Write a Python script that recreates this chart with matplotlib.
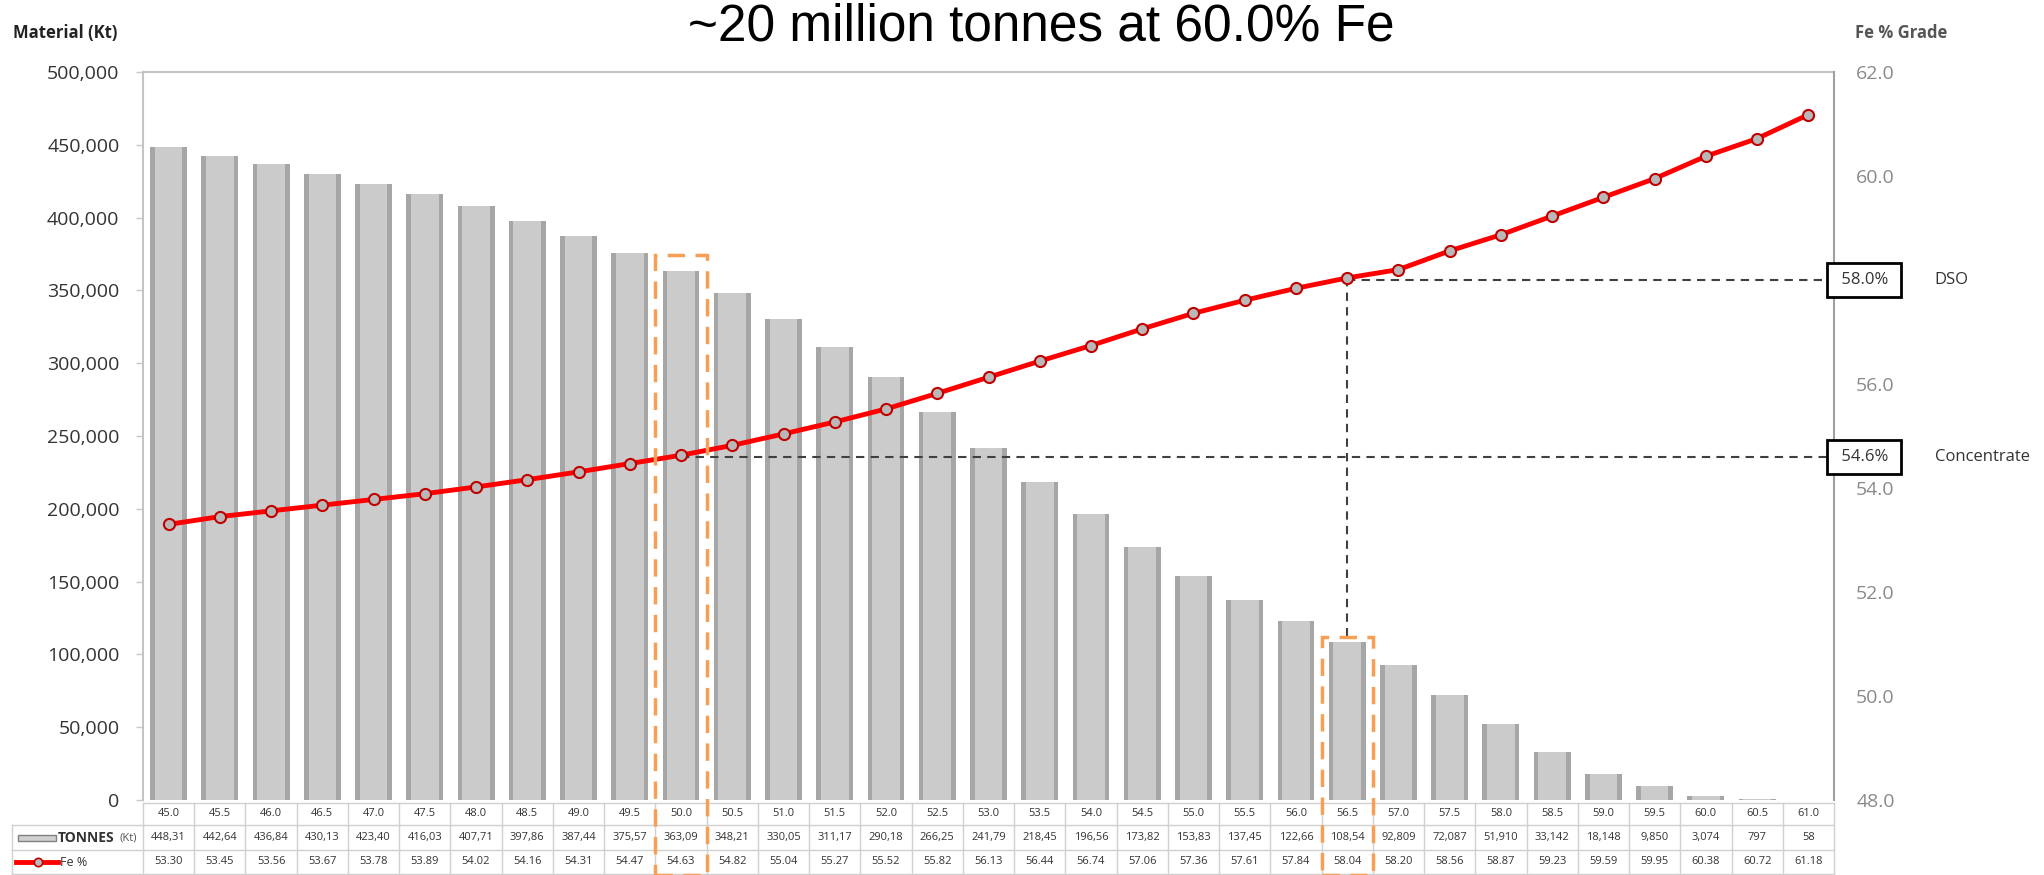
import numpy as np
import matplotlib
matplotlib.use("Agg")
import matplotlib.pyplot as plt
from matplotlib.patches import Rectangle
from matplotlib.lines import Line2D
import matplotlib.transforms as mtransforms

# cut-off grade (Fe %), tonnes above cut-off (Kt), average grade above cut-off
cutoff = [45.0, 45.5, 46.0, 46.5, 47.0, 47.5, 48.0, 48.5, 49.0, 49.5, 50.0,
          50.5, 51.0, 51.5, 52.0, 52.5, 53.0, 53.5, 54.0, 54.5, 55.0, 55.5,
          56.0, 56.5, 57.0, 57.5, 58.0, 58.5, 59.0, 59.5, 60.0, 60.5, 61.0]
tonnes = [448310, 442640, 436840, 430130, 423400, 416030, 407710, 397860,
          387440, 375570, 363090, 348210, 330050, 311170, 290180, 266250,
          241790, 218450, 196560, 173820, 153830, 137450, 122660, 108540,
          92809, 72087, 51910, 33142, 18148, 9850, 3074, 797, 58]
fe_grade = [53.30, 53.45, 53.56, 53.67, 53.78, 53.89, 54.02, 54.16, 54.31,
            54.47, 54.63, 54.82, 55.04, 55.27, 55.52, 55.82, 56.13, 56.44,
            56.74, 57.06, 57.36, 57.61, 57.84, 58.04, 58.20, 58.56, 58.87,
            59.23, 59.59, 59.95, 60.38, 60.72, 61.18]

conc_idx, conc_grade = 10, 54.6   # concentrate cut-off
dso_idx, dso_grade = 23, 58.0     # DSO cut-off

W, H = 2044, 875
fig = plt.figure(figsize=(W / 100, H / 100), dpi=100)
plt.rcParams['font.family'] = ['Open Sans', 'DejaVu Sans']

def fx(px):
    return px / W

def fy(py):
    return 1 - py / H

ax = fig.add_axes([fx(143), fy(800), fx(1834 - 143), (800 - 72) / H])
ax2 = ax.twinx()

n = len(cutoff)
x = np.arange(n)
ax.bar(x, tonnes, width=0.72, color='#a6a6a6', zorder=2)
ax.bar(x, tonnes, width=0.54, color='#cbcbcb', zorder=3)
ax.set_xlim(-0.5, n - 0.5)
ax.set_ylim(0, 500000)
ax.set_yticks(np.arange(0, 500001, 50000))
ax.set_yticklabels([f"{v:,}" for v in range(0, 500001, 50000)])
ax.set_xticks([])
ax.tick_params(axis='y', length=5, width=1, color='#c8c8c8', pad=12,
               labelsize=14, labelcolor='#333333')
for s in ['left', 'top']:
    ax.spines[s].set_color('#c4c4c4')
    ax.spines[s].set_linewidth(1.5)
ax.spines['right'].set_visible(False)
ax.spines['bottom'].set_visible(False)

ax2.plot(x, fe_grade, color='#ff0000', lw=3.5, marker='o', ms=8,
         mfc='#b8b8b8', mec='#c00000', mew=1.5, zorder=5)
ax2.set_ylim(48, 62)
grade_ticks = np.arange(48, 62.1, 2)
ax2.set_yticks(grade_ticks)
# 58.0 sits under the DSO box in the original
ax2.set_yticklabels(['' if v == dso_grade else f"{v:.1f}" for v in grade_ticks])
ax2.tick_params(axis='y', length=0, pad=16, labelsize=14, labelcolor='#8a8a8a')
ax2.spines['right'].set_color('#a0a0a0')
ax2.spines['right'].set_linewidth(1.5)
for s in ['left', 'top', 'bottom']:
    ax2.spines[s].set_visible(False)

# reference lines for concentrate and DSO cut-offs
dash = dict(color='#404040', lw=1.5, ls=(0, (4, 3)), zorder=4)
ax2.plot([conc_idx, n - 0.5], [conc_grade, conc_grade], **dash)
ax2.plot([dso_idx, n - 0.5], [dso_grade, dso_grade], **dash)
rect_top = [tonnes[conc_idx] * 1.03, tonnes[dso_idx] * 1.03]
dso_top_right = 48 + rect_top[1] / 500000 * 14
ax2.plot([dso_idx, dso_idx], [fe_grade[dso_idx], dso_top_right], **dash)

# orange dashed highlight boxes down through the table
bottom_val = -(875 - 800) / 728 * 500000
for idx, top in zip([conc_idx, dso_idx], rect_top):
    ax2.add_patch(Rectangle((idx - 0.5, 48 + bottom_val / 500000 * 14), 1.0,
                            (top - bottom_val) / 500000 * 14, fill=False,
                            ec='#f7a055', lw=2.5, ls=(0, (5, 3)),
                            clip_on=False, zorder=6))

# boxed grade labels on the right
trans = mtransforms.blended_transform_factory(ax2.transAxes, ax2.transData)
for g, lab in [(dso_grade, 'DSO'), (conc_grade, 'Concentrate')]:
    ax2.text(1.0015, g, f" {g:.1f}% ", transform=trans, ha='left', va='center',
             fontsize=12, color='#333333', zorder=7,
             bbox=dict(boxstyle='square,pad=0.55', fc='white', ec='black', lw=2))
    ax2.text(1.0595, g, lab, transform=trans, ha='left', va='center',
             fontsize=12, color='#333333')

# data table under the chart (x in data units, y in figure pixels)
tt = mtransforms.blended_transform_factory(ax.transData, fig.transFigure)
lab_left = -0.5 - 131 / 51.24
row_edges = [803, 825, 850, 874]
grid = dict(color='#d0d0d0', lw=1, transform=tt, clip_on=False)
ax.add_line(Line2D([-0.5, n - 0.5], [fy(row_edges[0])] * 2, **grid))
for yy in row_edges[1:]:
    ax.add_line(Line2D([lab_left, n - 0.5], [fy(yy)] * 2, **grid))
for b in np.arange(-0.5, n, 1.0):
    ax.add_line(Line2D([b, b], [fy(row_edges[0]), fy(row_edges[-1])], **grid))
ax.add_line(Line2D([lab_left, lab_left], [fy(row_edges[1]), fy(row_edges[-1])], **grid))

rows = [[f"{c:.1f}" for c in cutoff],
        [f"{t:,}"[:6] for t in tonnes],
        [f"{g:.2f}" for g in fe_grade]]
for r, cells in enumerate(rows):
    yc = fy((row_edges[r] + row_edges[r + 1]) / 2)
    for j, s in enumerate(cells):
        ax.text(j, yc, s, transform=tt, ha='center', va='center', fontsize=8,
                color='#333333', clip_on=False)

# row legend swatches
fig.add_artist(Rectangle((fx(18), fy(841)), fx(38), 6 / H, fc='#d0d0d0',
                         ec='#808080', lw=1))
fig.text(fx(58), fy(838), 'TONNES', fontsize=10, fontweight='bold',
         color='#333333', va='center')
fig.text(fx(120), fy(838), '(Kt)', fontsize=8, color='#555555', va='center')
fig.add_artist(Line2D([fx(16), fx(58)], [fy(862), fy(862)], color='#ff0000',
                      lw=3.5))
fig.add_artist(Line2D([fx(38)], [fy(862)], marker='o', ms=6, mfc='#b8b8b8',
                      mec='#c00000', mew=1.2))
fig.text(fx(60), fy(862), 'Fe %', fontsize=9, color='#333333', va='center')

# titles
fig.text(fx(1041), fy(27), '~20 million tonnes at 60.0% Fe', ha='center',
         va='center', fontsize=37, family='Liberation Sans', color='black')
fig.text(fx(13), fy(33), 'Material (Kt)', fontsize=12, fontweight='bold',
         color='#222222', va='center')
fig.text(fx(1855), fy(33), 'Fe % Grade', fontsize=12, fontweight='bold',
         color='#555555', va='center')

fig.savefig('out.png', dpi=100)
